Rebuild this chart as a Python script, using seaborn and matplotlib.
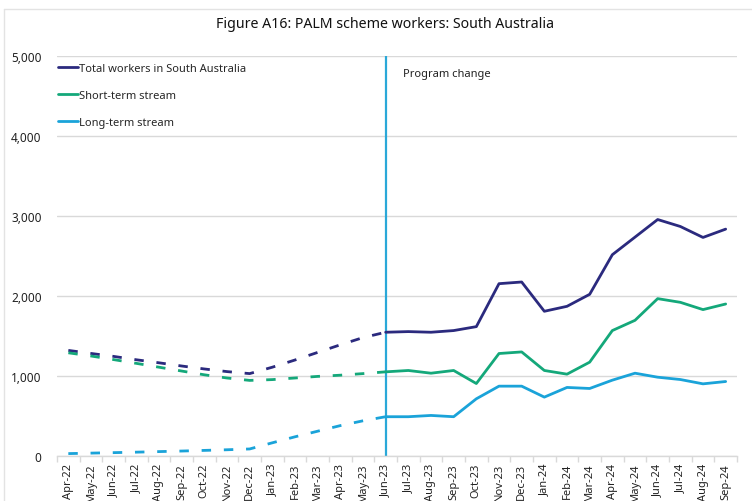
import numpy as np
import pandas as pd
import matplotlib
matplotlib.use("Agg")
import matplotlib.pyplot as plt
from matplotlib.lines import Line2D
from matplotlib.ticker import FuncFormatter, MultipleLocator, FixedLocator
import seaborn as sb

months = ["Apr-22", "May-22", "Jun-22", "Jul-22", "Aug-22", "Sep-22", "Oct-22",
          "Nov-22", "Dec-22", "Jan-23", "Feb-23", "Mar-23", "Apr-23", "May-23",
          "Jun-23", "Jul-23", "Aug-23", "Sep-23", "Oct-23", "Nov-23", "Dec-23",
          "Jan-24", "Feb-24", "Mar-24", "Apr-24", "May-24", "Jun-24", "Jul-24",
          "Aug-24", "Sep-24"]

total = [1320, 1282, 1245, 1203, 1165, 1125, 1088, 1055, 1030, 1110, 1200,
         1295, 1390, 1480, 1547, 1555, 1547, 1568, 1617, 2154, 2175, 1809,
         1871, 2021, 2516, 2736, 2956, 2869, 2732, 2836]
short_term = [1290, 1250, 1205, 1158, 1110, 1062, 1015, 975, 945, 955, 975,
              995, 1010, 1030, 1052, 1069, 1035, 1069, 906, 1281, 1301, 1069,
              1023, 1173, 1568, 1696, 1967, 1921, 1830, 1900]
long_term = [30, 36, 42, 48, 55, 62, 70, 78, 88, 165, 240, 310, 380, 440, 491,
             491, 507, 491, 715, 873, 873, 736, 857, 844, 948, 1035, 985, 956,
             902, 931]

series_names = ["Total workers in South Australia", "Short-term stream",
                "Long-term stream"]
colours = ["#2B2A7E", "#14A87A", "#1AA3D9"]
change_month = "Jun-23"

# long table, the Jun-23 point belongs to both periods so the lines join
cut = months.index(change_month)
rows = []
for name, vals in zip(series_names, [total, short_term, long_term]):
    for i, (m, v) in enumerate(zip(months, vals)):
        if i <= cut:
            rows.append((m, v, name, "before"))
        if i >= cut:
            rows.append((m, v, name, "after"))
df = pd.DataFrame(rows, columns=["month", "workers", "series", "period"])

sb.set_theme(style="white")
plt.rcParams['font.family'] = ['Noto Sans', 'DejaVu Sans']

fig = plt.figure(figsize=(7.52, 5.02), dpi=100)
ax = fig.add_axes([57 / 752, 45 / 502, 680 / 752, 400 / 502])

sb.lineplot(data=df, x="month", y="workers", hue="series", style="period",
            hue_order=series_names, palette=colours,
            style_order=["after", "before"],
            dashes={"after": "", "before": (3.4, 4.6)},
            sort=False, linewidth=2.0, ax=ax, legend=False)

ax.axvline(months.index(change_month), color="#2AA8D8", lw=1.6, zorder=1)
ax.text(cut + 0.75, 4780, "Program change", fontsize=8, color="#222222",
        va="center", ha="left")

ax.set_xlim(-0.5, len(months) - 0.5)
ax.set_ylim(0, 5000)
ax.yaxis.set_major_locator(MultipleLocator(1000))
ax.yaxis.set_major_formatter(FuncFormatter(lambda v, p: f"{int(v):,}"))
ax.grid(axis="y", color="#D9D9D9", lw=1)
ax.set_axisbelow(True)

ax.set_xticks(range(len(months)))
ax.set_xticklabels(months, rotation=90, fontsize=8, color="#222222")
ax.xaxis.set_minor_locator(FixedLocator(np.arange(-0.5, len(months), 1)))
ax.tick_params(axis="x", which="major", length=0, pad=5)
ax.tick_params(axis="x", which="minor", length=4, color="#D9D9D9", width=1,
               bottom=True)
ax.tick_params(axis="y", length=0, labelsize=8.5, labelcolor="#222222", pad=11)
ax.set_xlabel("")
ax.set_ylabel("")

for s in ["top", "right", "left"]:
    ax.spines[s].set_visible(False)
ax.spines["bottom"].set_color("#D9D9D9")
ax.spines["bottom"].set_linewidth(1)

handles = [Line2D([0], [0], color=c, lw=2.0) for c in colours]
ax.legend(handles, series_names, loc="upper left", frameon=False,
          fontsize=8, handlelength=1.8, handletextpad=0.1, labelspacing=1.45,
          borderaxespad=0.0, borderpad=0.1, bbox_to_anchor=(0.0, 0.985))

fig.suptitle("Figure A16: PALM scheme workers: South Australia",
             x=385 / 752, y=1 - 24 / 502, va="center", fontsize=10.2,
             color="#111111")

# thin grey frame round the chart area
fig.add_artist(Line2D([4 / 752, 1], [1 - 10 / 502, 1 - 10 / 502],
                      color="#E3E3E3", lw=1))
fig.add_artist(Line2D([4 / 752, 4 / 752], [0, 1 - 10 / 502],
                      color="#E3E3E3", lw=1))

fig.savefig("out.png", dpi=100)
